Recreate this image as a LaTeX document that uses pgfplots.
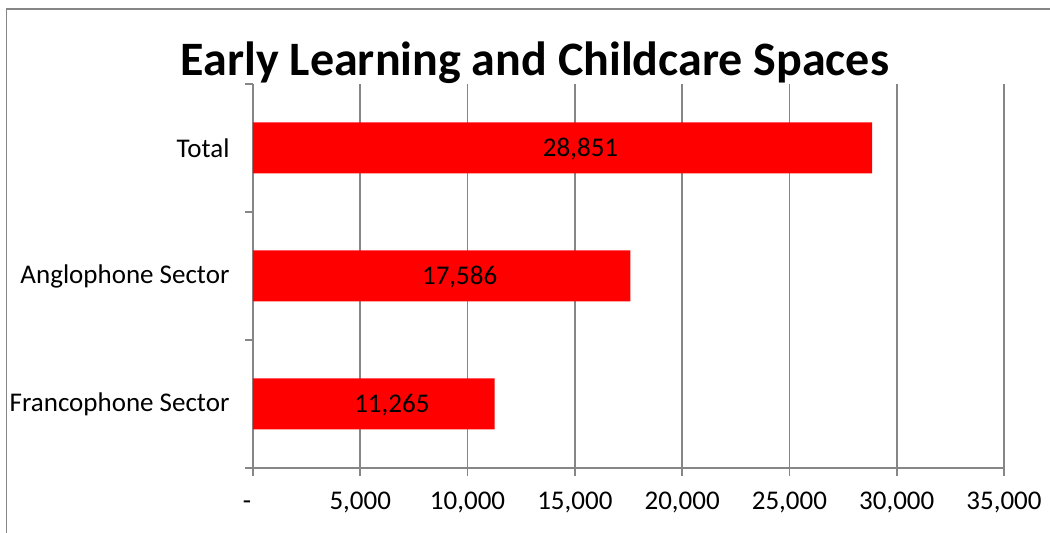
\documentclass[border=0pt]{standalone}
\usepackage{fontspec}
\setmainfont{Carlito}
\usepackage{pgfplots}
\usepackage{pgfplotstable}
\pgfplotsset{compat=1.18}
\definecolor{axgray}{HTML}{868686}
\pgfplotstableread{
pos v label
2 28851 28,851
1 17586 17,586
0 11265 11,265
}\datatable

\begin{document}
\begin{tikzpicture}[x=1pt,y=1pt]
\draw[axgray, line width=1.8pt] (6.5,-20) -- (6.5,524) -- (1080,524);
\node[font=\fontsize{48}{52}\selectfont\bfseries, anchor=base] at (535,457) {Early Learning and Childcare Spaces};
\begin{axis}[
 at={(253pt,65pt)}, anchor=south west,
 scale only axis, width=751pt, height=384pt,
 xmin=0, xmax=35000, ymin=-0.5, ymax=2.5,
 scaled x ticks=false,
 axis x line*=bottom, axis y line*=left,
 axis line style={axgray, line width=1.8pt, -},
 xtick={0,5000,...,35000},
 xticklabels={{-\hspace*{12pt}},{5,000},{10,000},{15,000},{20,000},{25,000},{30,000},{35,000}},
 xmajorgrids, grid style={axgray, line width=1.6pt},
 tick align=outside, major tick length=8pt, minor tick length=8pt,
 major x tick style={axgray, line width=1.8pt},
 ytick={0,1,2}, yticklabels={Francophone Sector, Anglophone Sector, Total},
 major y tick style={draw=none},
 minor ytick={-0.5,0.5,1.5,2.5},
 minor y tick style={draw=axgray, line width=1.8pt},
 ticklabel style={font=\fontsize{27}{31}\selectfont},
 yticklabel style={xshift=-12pt},
 xticklabel style={text height=17.5pt, text depth=0pt, yshift=-12pt},
]
\addplot[xbar, bar width=51pt, fill=red, draw=none] table[x=v, y=pos] {\datatable};
\addplot[draw=none, mark=none, nodes near coords, point meta=explicit symbolic,
  every node near coord/.style={anchor=center, xshift=18pt, yshift=-1pt, font=\fontsize{27}{31}\selectfont, text=black}]
  table[x expr=\thisrow{v}/2, y=pos, meta=label] {\datatable};
\end{axis}
\pgfresetboundingbox
\useasboundingbox (0,0) rectangle (1050,533);
\end{tikzpicture}
\end{document}
